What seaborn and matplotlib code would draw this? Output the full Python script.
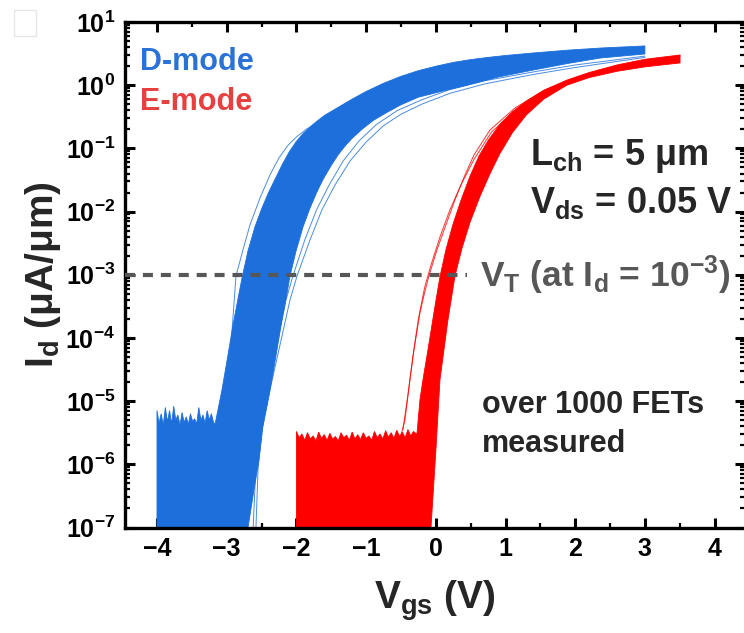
import numpy as np
import matplotlib
matplotlib.use("Agg")
import matplotlib.pyplot as plt
import seaborn as sns
from matplotlib.ticker import LogLocator, MultipleLocator, NullFormatter
from matplotlib.patches import Rectangle

# ---------------- data ----------------
# Vgs in V, Id given as log10(Id / (uA/um))
# D-mode (blue) family: noise floor top, left/upper envelope, right/lower envelope
blue_noise_vgs = [-4.00, -3.97, -3.94, -3.91, -3.88, -3.85, -3.82, -3.79, -3.76, -3.73,
                  -3.70, -3.67, -3.64, -3.61, -3.58, -3.55, -3.52, -3.49, -3.46, -3.43,
                  -3.40, -3.37, -3.34, -3.31, -3.28, -3.25, -3.22, -3.19]
blue_noise_log = [-5.15, -5.35, -5.20, -5.38, -5.10, -5.33, -5.15, -5.36, -5.08, -5.30,
                  -5.22, -5.38, -5.18, -5.34, -5.25, -5.37, -5.20, -5.32, -5.28, -5.36,
                  -5.10, -5.30, -5.22, -5.35, -5.15, -5.30, -5.20, -5.33]
blue_upper_vgs = [-3.168, -3.067, -2.981, -2.910, -2.838, -2.780, -2.694, -2.594, -2.50,
                  -2.40, -2.307, -2.20, -2.10, -2.00, -1.90, -1.75, -1.60, -1.40, -1.20,
                  -1.00, -0.75, -0.50, -0.25, 0.00, 0.25, 0.50, 0.75, 1.00, 1.40, 1.90,
                  2.40, 3.00]
blue_upper_log = [-5.372, -4.818, -4.265, -3.80, -3.38, -3.05, -2.62, -2.24, -1.96,
                  -1.70, -1.49, -1.25, -1.05, -0.89, -0.76, -0.61, -0.48, -0.35, -0.22,
                  -0.10, 0.03, 0.14, 0.23, 0.30, 0.36, 0.405, 0.44, 0.47, 0.51, 0.555,
                  0.59, 0.621]
blue_lower_vgs = [-2.720, -2.694, -2.608, -2.537, -2.480, -2.377, -2.291, -2.220, -2.148,
                  -2.092, -2.004, -1.904, -1.810, -1.710, -1.617, -1.500, -1.400, -1.300,
                  -1.200, -1.050, -0.900, -0.700, -0.500, -0.250, 0.000, 0.450, 0.900,
                  1.400, 1.900, 2.360, 3.000]
blue_lower_log = [-7.50, -7.00, -6.40, -5.93, -5.40, -4.82, -4.27, -3.80, -3.38,
                  -3.02, -2.62, -2.24, -1.96, -1.70, -1.49, -1.27, -1.10, -0.96,
                  -0.84, -0.69, -0.56, -0.43, -0.31, -0.19, -0.12, 0.00, 0.13,
                  0.24, 0.345, 0.43, 0.494]
blue_out1_vgs = [-2.580, -2.551, -2.494, -2.379, -2.235, -2.092, -1.991, -1.805, -1.633,
                 -1.446, -1.231, -1.000, -0.750, -0.500, -0.200, 0.200, 0.700, 1.400,
                 2.000, 2.500, 3.001]
blue_out1_log = [-7.00, -6.08, -5.45, -4.82, -4.11, -3.40, -3.02, -2.45, -1.97,
                 -1.58, -1.20, -0.90, -0.64, -0.46, -0.30, -0.13, 0.02, 0.17,
                 0.28, 0.36, 0.44]
blue_out2_vgs = [-2.62, -2.58, -2.52, -2.42, -2.28, -2.15, -2.05, -1.88, -1.71, -1.53,
                 -1.33, -1.10, -0.85, -0.55, -0.20, 0.20, 0.70, 1.40, 2.00, 2.50, 3.00]
blue_out2_log = [-7.00, -6.00, -5.40, -4.80, -4.10, -3.40, -3.02, -2.45, -1.97, -1.58,
                 -1.20, -0.88, -0.62, -0.40, -0.23, -0.07, 0.07, 0.21, 0.32, 0.39, 0.46]
blue_out3_vgs = [-3.024, -2.953, -2.867, -2.760, -2.666, -2.520, -2.379, -2.250, -2.120,
                 -2.000, -1.850, -1.700]
blue_out3_log = [-5.29, -4.34, -3.02, -2.58, -2.21, -1.78, -1.42, -1.15, -0.95,
                 -0.82, -0.69, -0.60]

# E-mode (red) family
red_noise_vgs = [-2.00, -1.96, -1.92, -1.88, -1.84, -1.80, -1.76, -1.72, -1.68, -1.64,
                 -1.60, -1.56, -1.52, -1.48, -1.44, -1.40, -1.36, -1.32, -1.28, -1.24,
                 -1.20, -1.16, -1.12, -1.08, -1.04, -1.00, -0.96, -0.92, -0.88, -0.84,
                 -0.80, -0.76, -0.72, -0.68, -0.64, -0.60, -0.56, -0.52, -0.48, -0.44,
                 -0.40, -0.36, -0.32, -0.28]
red_noise_log = [-5.48, -5.58, -5.52, -5.62, -5.50, -5.60, -5.55, -5.63, -5.49, -5.59,
                 -5.53, -5.62, -5.51, -5.60, -5.56, -5.63, -5.50, -5.58, -5.54, -5.62,
                 -5.49, -5.60, -5.53, -5.61, -5.50, -5.59, -5.55, -5.62, -5.48, -5.58,
                 -5.52, -5.60, -5.47, -5.57, -5.50, -5.59, -5.46, -5.56, -5.49, -5.58,
                 -5.45, -5.55, -5.48, -5.52]
red_upper_vgs = [-0.270, -0.227, -0.184, -0.112, -0.050, 0.000, 0.060, 0.146, 0.247,
                 0.362, 0.491, 0.620, 0.760, 0.920, 1.100, 1.300, 1.550, 1.880, 2.200,
                 2.600, 3.000, 3.504]
red_upper_log = [-5.514, -4.976, -4.660, -4.186, -3.76, -3.42, -3.03, -2.60, -2.20,
                 -1.82, -1.44, -1.12, -0.86, -0.62, -0.42, -0.25, -0.08, 0.08, 0.20,
                 0.32, 0.41, 0.478]
red_lower_vgs = [-0.090, -0.069, 0.000, 0.060, 0.175, 0.275, 0.376, 0.491, 0.634, 0.778,
                 0.921, 1.100, 1.300, 1.550, 1.880, 2.200, 2.600, 3.000, 3.504]
red_lower_log = [-7.50, -7.00, -5.80, -4.66, -3.71, -3.02, -2.58, -2.17, -1.76, -1.40,
                 -1.08, -0.75, -0.47, -0.22, 0.00, 0.12, 0.22, 0.29, 0.352]
red_out1_vgs = [-0.514, -0.442, -0.370, -0.313, -0.227, -0.160, -0.098, 0.017, 0.146,
                0.275, 0.419, 0.548, 0.778, 1.136, 1.567, 2.000, 2.356, 2.800, 3.504]
red_out1_log = [-5.609, -5.292, -4.660, -4.186, -3.60, -3.28, -3.016, -2.605, -2.209,
                -1.814, -1.419, -1.103, -0.708, -0.360, -0.075, 0.12, 0.241, 0.34, 0.462]
red_out2_vgs = [-0.471, -0.400, -0.330, -0.250, -0.160, -0.070, 0.060, 0.200, 0.360,
                0.550, 0.800, 1.150, 1.600, 2.000, 2.360, 2.800, 3.504]
red_out2_log = [-5.45, -4.90, -4.30, -3.70, -3.20, -2.85, -2.40, -1.98, -1.58,
                -1.17, -0.74, -0.39, -0.09, 0.10, 0.23, 0.34, 0.465]

vt_level = 1e-3
vt_line_vgs = [-4.46, 0.45]

x_ticks = [-4, -3, -2, -1, 0, 1, 2, 3, 4]
floor_log = -7.5

# ---------------- style ----------------
sns.set_theme(style="ticks")
plt.rcParams['font.family'] = ['Liberation Sans', 'DejaVu Sans']
plt.rcParams['font.weight'] = 'bold'
plt.rcParams['mathtext.default'] = 'regular'
plt.rcParams['axes.unicode_minus'] = True

BLUE = "#1D6FDB"
RED = "#FF0000"
BLUE_TXT = "#2A72D8"
RED_TXT = "#E8403F"
GRAY = "#575757"

fig = plt.figure(figsize=(7.44, 6.33), dpi=100)
ax = fig.add_axes([125 / 744, 1 - 527.5 / 633, 620 / 744, 505.5 / 633])


def to_id(logs):
    return np.power(10.0, np.asarray(logs, dtype=float))


# blue filled family
bx = ([blue_noise_vgs[0], blue_noise_vgs[0]] + blue_noise_vgs + blue_upper_vgs
      + blue_lower_vgs[::-1] + [blue_noise_vgs[0]])
by = ([floor_log, blue_noise_log[0]] + blue_noise_log + blue_upper_log
      + blue_lower_log[::-1] + [floor_log])
ax.fill(bx, to_id(by), color=BLUE, lw=0.6, ec=BLUE, zorder=2)

# red filled family
rx = ([red_noise_vgs[0], red_noise_vgs[0]] + red_noise_vgs + red_upper_vgs
      + red_lower_vgs[::-1] + [red_noise_vgs[0]])
ry = ([floor_log, red_noise_log[0]] + red_noise_log + red_upper_log
      + red_lower_log[::-1] + [floor_log])
ax.fill(rx, to_id(ry), color=RED, lw=0.6, ec=RED, zorder=2)

# outlier curves
for vx, vl, c in [(blue_out1_vgs, blue_out1_log, BLUE), (blue_out2_vgs, blue_out2_log, BLUE),
                  (blue_out3_vgs, blue_out3_log, BLUE),
                  (red_out1_vgs, red_out1_log, RED), (red_out2_vgs, red_out2_log, RED)]:
    sns.lineplot(x=vx, y=to_id(vl), ax=ax, color=c, lw=0.7, alpha=0.8,
                 estimator=None, sort=False, zorder=2)

# VT dashed line
sns.lineplot(x=vt_line_vgs, y=[vt_level, vt_level], ax=ax, color=GRAY, lw=3,
             dashes=False, zorder=3)
ax.lines[-1].set_dashes((2.4, 1.9))

ax.set_yscale('log')
ax.set_ylim(1e-7, 1e1)
ax.set_xlim(-4.459, 4.436)

ax.xaxis.set_major_locator(MultipleLocator(1))
ax.xaxis.set_minor_locator(MultipleLocator(0.5))
ax.yaxis.set_major_locator(LogLocator(base=10, numticks=20))
ax.yaxis.set_minor_locator(LogLocator(base=10, subs=np.arange(2, 10), numticks=50))
ax.yaxis.set_minor_formatter(NullFormatter())
ax.set_xticks(x_ticks)

ax.tick_params(which='both', direction='in', top=True, right=True, colors='black')
ax.tick_params(which='major', length=7, width=2.2, labelsize=18, pad=7)
ax.tick_params(which='minor', length=3.5, width=1.6)
for lab in ax.get_xticklabels() + ax.get_yticklabels():
    lab.set_fontweight('bold')
for s in ax.spines.values():
    s.set_linewidth(2.4)
    s.set_color('black')

ax.set_xlabel(r"$V_{gs}$ (V)", fontsize=28, fontweight='bold', labelpad=12)
ax.set_ylabel(r"$I_d$ (μA/μm)", fontsize=28, fontweight='bold', labelpad=2)

# annotations
ax.text(0.024, 0.905, "D-mode", transform=ax.transAxes, color=BLUE_TXT, fontsize=22,
        fontweight='bold', va='baseline')
ax.text(0.024, 0.826, "E-mode", transform=ax.transAxes, color=RED_TXT, fontsize=22,
        fontweight='bold', va='baseline')
ax.text(0.653, 0.717, r"$L_{ch}$ = 5 μm", transform=ax.transAxes, fontsize=26,
        fontweight='bold', va='baseline')
ax.text(0.653, 0.622, r"$V_{ds}$ = 0.05 V", transform=ax.transAxes, fontsize=26,
        fontweight='bold', va='baseline')
ax.text(0.5726, 0.476, r"$V_T$ (at $I_d$ = $10^{-3}$)", transform=ax.transAxes,
        fontsize=25.5, fontweight='bold', color=GRAY, va='baseline')
ax.text(0.575, 0.2265, "over 1000 FETs", transform=ax.transAxes, fontsize=22,
        fontweight='bold', va='baseline')
ax.text(0.575, 0.149, "measured", transform=ax.transAxes, fontsize=22,
        fontweight='bold', va='baseline')

# small light square at the top-left corner
fig.patches.append(Rectangle((14 / 744, 1 - 36 / 633), 22 / 744, 26 / 633,
                             transform=fig.transFigure, fill=False, ec='#E6E6E6', lw=1))

fig.savefig("out.png", dpi=100)
